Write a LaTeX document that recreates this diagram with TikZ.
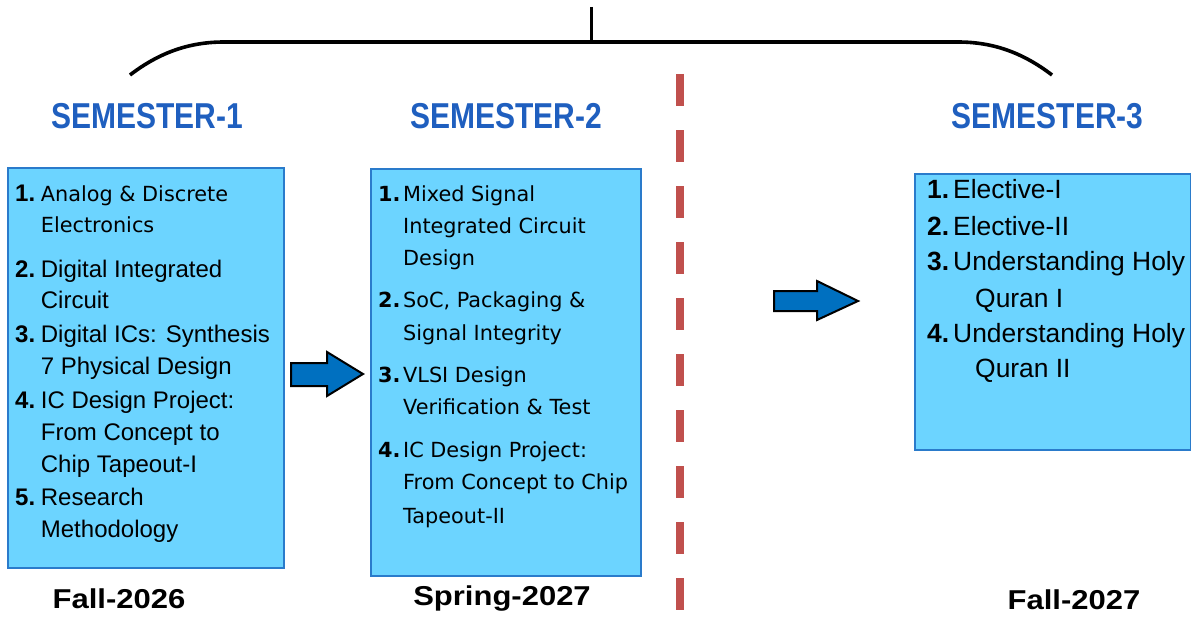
\documentclass[tikz,border=0pt]{standalone}
\usepackage{fontspec}
\usepackage{graphicx}
\setmainfont{Liberation Sans}
\newfontfamily\tah{DejaVu Sans}
\definecolor{boxfill}{HTML}{6CD4FF}
\definecolor{boxline}{HTML}{2A7BCB}
\definecolor{headblue}{HTML}{1F5FBF}
\definecolor{arrowblue}{HTML}{0070C0}
\definecolor{dashred}{HTML}{C0504D}
\tikzset{
  box/.style={draw=boxline, line width=1.6pt, fill=boxfill, anchor=north west, inner sep=0pt},
  head/.style={text=headblue, font=\fontsize{30}{30}\selectfont\bfseries, anchor=base, inner sep=0pt},
  term/.style={font=\fontsize{31}{31}\selectfont\bfseries, anchor=base, inner sep=0pt},
  numA/.style={font=\fontsize{24}{24}\selectfont\bfseries, anchor=base west, inner sep=0pt},
  txtA/.style={font=\fontsize{24}{24}\selectfont, anchor=base west, inner sep=0pt},
  txtT/.style={font=\tah\fontsize{20.8}{20.8}\selectfont, anchor=base west, inner sep=0pt},
  numT/.style={font=\tah\fontsize{20.8}{20.8}\selectfont\bfseries, anchor=base west, inner sep=0pt},
  numC/.style={font=\fontsize{26.4}{26.4}\selectfont\bfseries, anchor=base west, inner sep=0pt},
  txtC/.style={font=\fontsize{26.4}{26.4}\selectfont, anchor=base west, inner sep=0pt},
  blockarrow/.style={fill=arrowblue, draw=black, line width=2pt, line join=miter},
  brace/.style={line width=3.6pt, line cap=butt},
  divider/.style={draw=dashred, line width=8pt, dash pattern=on 32pt off 24pt}
}
\begin{document}
\begin{tikzpicture}[x=1pt, y=-1pt]
\useasboundingbox (0,0) rectangle (1191,618);
% brace
\coordinate (bl) at (130,75);
\coordinate (br) at (1052,75);
\coordinate (bt) at (591,7);
\coordinate (bm) at (591,42);
\draw[brace] (bl) .. controls (160,52) and (190,42) .. (224,42) -- (958,42) .. controls (992,42) and (1022,52) .. (br);
\draw[line width=3pt] (bt) -- (bm);
% divider
\coordinate (dtop) at (680,74);
\coordinate (dbot) at (680,612);
\draw[divider] (dtop) -- (dbot);
% headings
\node[head] (h1) at (147,128) {\scalebox{1}[1.2]{SEMESTER-1}};
\node[head] (h2) at (506,128) {\scalebox{1}[1.2]{SEMESTER-2}};
\node[head] (h3) at (1047.5,128) {\scalebox{1}[1.2]{SEMESTER-3}};
% boxes
\node[box, minimum width=276pt, minimum height=400pt] (b1) at (7,167) {};
\node[box, minimum width=270pt, minimum height=407pt] (b2) at (370,168) {};
\node[box, minimum width=276pt, minimum height=276pt] (b3) at (914,173) {};
% box 1 items
\node[numA] (n11) at (15,201) {1.};
\node[txtT] (t11a) at (40.7,201) {Analog \& Discrete};
\node[txtT] (t11b) at (40.7,232) {Electronics};
\node[numA] (n12) at (15,277) {2.};
\node[txtA] (t12a) at (40.7,277) {Digital Integrated};
\node[txtA] (t12b) at (40.7,308) {Circuit};
\node[numA] (n13) at (15,342) {3.};
\node[txtA] (t13a) at (40.7,342) {Digital ICs: Synthesis};
\node[txtA] (t13b) at (40.7,374) {7 Physical Design};
\node[numA] (n14) at (15,408) {4.};
\node[txtA] (t14a) at (40.7,408) {IC Design Project:};
\node[txtA] (t14b) at (40.7,440) {From Concept to};
\node[txtA] (t14c) at (40.7,472) {Chip Tapeout-I};
\node[numA] (n15) at (15,505) {5.};
\node[txtA] (t15a) at (40.7,505) {Research};
\node[txtA] (t15b) at (40.7,537) {Methodology};
% box 2 items
\node[numT] (n21) at (378,201) {1.};
\node[txtT] (t21a) at (403,201) {Mixed Signal};
\node[txtT] (t21b) at (403,233) {Integrated Circuit};
\node[txtT] (t21c) at (403,265) {Design};
\node[numT] (n22) at (378,307) {2.};
\node[txtT] (t22a) at (403,307) {SoC, Packaging \&};
\node[txtT] (t22b) at (403,340) {Signal Integrity};
\node[numT] (n23) at (378,382) {3.};
\node[txtT] (t23a) at (403,382) {VLSI Design};
\node[txtT] (t23b) at (403,414) {Verification \& Test};
\node[numT] (n24) at (378,457) {4.};
\node[txtT] (t24a) at (403,457) {IC Design Project:};
\node[txtT] (t24b) at (403,489) {From Concept to Chip};
\node[txtT] (t24c) at (403,523) {Tapeout-II};
% box 3 items
\node[numC] (n31) at (927,198) {1.};
\node[txtC] (t31) at (953,198) {Elective-I};
\node[numC] (n32) at (927,235) {2.};
\node[txtC] (t32) at (953,235) {Elective-II};
\node[numC] (n33) at (927,270) {3.};
\node[txtC] (t33a) at (953,270) {Understanding Holy};
\node[txtC] (t33b) at (975,307) {Quran I};
\node[numC] (n34) at (927,342) {4.};
\node[txtC] (t34a) at (953,342) {Understanding Holy};
\node[txtC] (t34b) at (975,377) {Quran II};
% block arrows
\draw[blockarrow] (291,363) -- (327,363) -- (327,352) -- (363,374) -- (327,396) -- (327,386) -- (291,386) -- cycle;
\draw[blockarrow] (774,291) -- (817,291) -- (817,281) -- (858,301) -- (817,320) -- (817,311) -- (774,311) -- cycle;
% terms
\node[term] (f1) at (119,608) {\scalebox{1}[0.88]{Fall-2026}};
\node[term] (f2) at (502,605) {\scalebox{1}[0.88]{Spring-2027}};
\node[term] (f3) at (1074,609) {\scalebox{1}[0.88]{Fall-2027}};
\end{tikzpicture}
\end{document}
